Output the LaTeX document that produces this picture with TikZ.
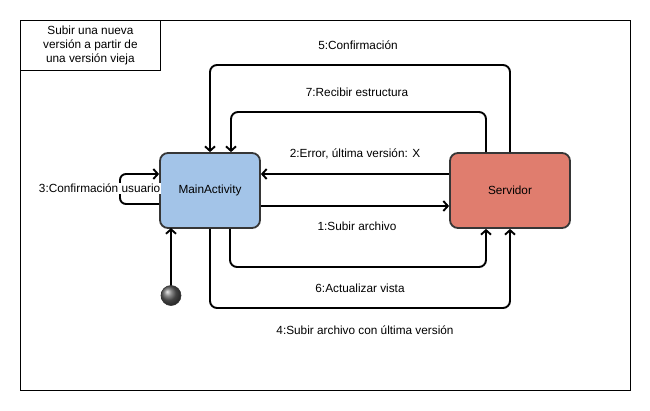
\documentclass[tikz,border=0pt]{standalone}
\usepackage{fontspec}
\setmainfont{Liberation Sans}
\usetikzlibrary{arrows.meta,calc,shadings}
\definecolor{mablue}{HTML}{A3C4E8}
\definecolor{svred}{HTML}{E07D6E}
\definecolor{bord}{HTML}{363636}
\begin{document}
\begin{tikzpicture}[x=1pt,y=-1pt,
  font=\fontsize{11.8}{14}\selectfont,
  box/.style={draw=bord,line width=1.8pt,rounded corners=8pt,inner sep=0pt},
  conn/.style={line width=1.9pt,rounded corners=7pt,-{Straight Barb[length=4.5pt,width=10pt]}},
  lbl/.style={inner sep=1pt,align=center}]
\useasboundingbox (0,0) rectangle (650,410);
\fill[white] (0,0) rectangle (650,410);
\node[draw,line width=0.8pt,minimum width=610pt,minimum height=370pt,inner sep=0pt] (frame) at (325,205) {};
\node[draw,line width=0.8pt,minimum width=140pt,minimum height=50pt,inner sep=0pt,align=center,anchor=north west] (title) at (20,20) {Subir una nueva\\versión a partir de\\una versión vieja};
\node[box,fill=mablue,minimum width=100pt,minimum height=75pt] (main) at (210,190.5) {MainActivity};
\node[box,fill=svred,minimum width=120pt,minimum height=75pt] (serv) at (510,190.5) {Servidor};
\coordinate (ms) at (171,228);
\coordinate (st) at (171,286);
\draw[conn] (st) -- (ms);
\node[circle,draw=black!80,line width=0.6pt,minimum size=20pt,inner sep=0pt,ball color=black!62] (start) at (171,295.5) {};
% connectors
\coordinate (c5) at (210,65);
\draw[conn] (serv.north) |- (c5) -- (main.north);
\coordinate (s7) at ($(serv.north)+(-24,0)$);
\coordinate (m7) at ($(main.north)+(21,0)$);
\coordinate (c7a) at (486,112);
\coordinate (c7b) at (231,112);
\draw[conn] (s7) -- (c7a) -- (c7b) -- (m7);
\draw[conn] ($(serv.west)+(0,-16.5)$) -- ($(main.east)+(0,-16.5)$);
\draw[conn] ($(main.east)+(0,15.5)$) -- ($(serv.west)+(0,15.5)$);
\coordinate (m6) at ($(main.south)+(20,0)$);
\coordinate (s6) at ($(serv.south)+(-24,0)$);
\coordinate (c6a) at (230,267);
\coordinate (c6b) at (486,267);
\draw[conn] (m6) -- (c6a) -- (c6b) -- (s6);
\coordinate (c4a) at (210,308);
\coordinate (c4b) at (510,308);
\draw[conn] (main.south) -- (c4a) -- (c4b) -- (serv.south);
\coordinate (c3a) at (120,204);
\coordinate (c3b) at (120,174);
\draw[conn,rounded corners=6pt] ($(main.west)+(0,13.5)$) -- (c3a) -- (c3b) -- ($(main.west)+(0,-16.5)$);
% labels
\node[lbl] (l5) at (358,45) {5:Confirmación};
\node[lbl] (l7) at (357,92) {7:Recibir estructura};
\node[lbl] (l2) at (355,154) {2:Error, última versión: X};
\node[lbl] (l1) at (357,226) {1:Subir archivo};
\node[lbl] (l6) at (360,288) {6:Actualizar vista};
\node[lbl] (l4) at (365,330) {4:Subir archivo con última versión};
\node[lbl,fill=white,anchor=east] (l3) at (161.5,188.5) {3:Confirmación usuario};
\end{tikzpicture}
\end{document}
